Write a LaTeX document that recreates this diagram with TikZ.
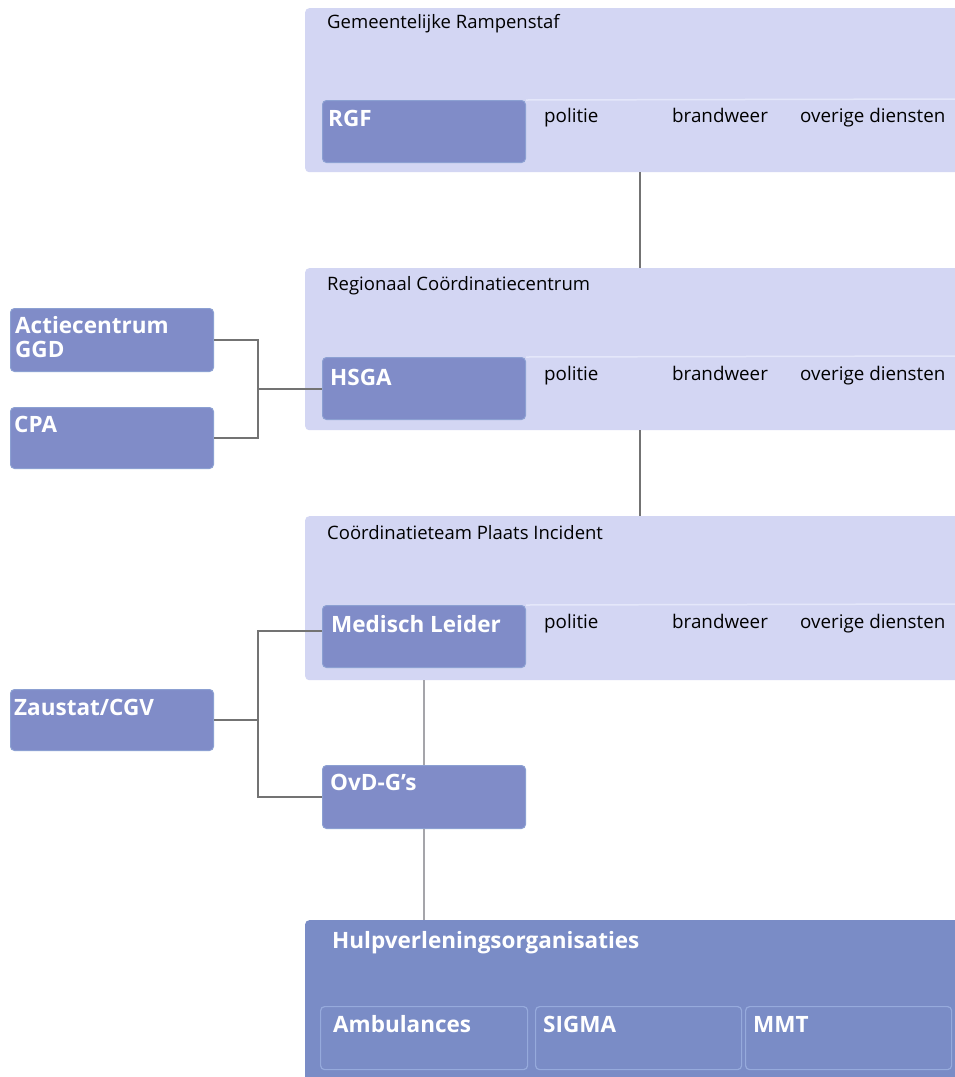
\documentclass[tikz,border=0pt]{standalone}
\usepackage{fontspec}
\setmainfont{Open Sans}
\definecolor{panelc}{RGB}{211,214,243}
\definecolor{panelline}{RGB}{228,231,250}
\definecolor{darkc}{RGB}{128,140,200}
\definecolor{darkedge}{RGB}{140,160,210}
\definecolor{hulpc}{RGB}{122,140,198}
\definecolor{subedge}{RGB}{150,170,220}
\definecolor{linec}{RGB}{115,115,115}
\definecolor{linelight}{RGB}{165,165,170}
\begin{document}
\begin{tikzpicture}[x=1pt,y=-1pt,
  panel/.style={fill=panelc, rounded corners=4pt, inner sep=0pt, anchor=north west},
  darkbox/.style={fill=darkc, draw=darkedge, line width=1pt, rounded corners=4pt, inner sep=0pt, anchor=north west, minimum width=203pt, minimum height=62pt},
  subbox/.style={draw=subedge, line width=1.2pt, rounded corners=4pt, inner sep=0pt, anchor=north west, minimum height=63pt},
  title/.style={anchor=base west, inner sep=0pt, font=\fontsize{18.5}{20}\selectfont, text=black},
  row/.style={anchor=base west, inner sep=0pt, font=\fontsize{18.8}{20}\selectfont, text=black},
  blabel/.style={anchor=base west, inner sep=0pt, font=\bfseries\fontsize{22.5}{24}\selectfont, text=white, align=left},
  conn/.style={draw=linec, line width=2pt},
  connl/.style={draw=linelight, line width=2.4pt},
  strip/.style={draw=panelline, line width=1.5pt}
]
\clip (0,0) rectangle (955,1077);
\fill[white] (0,0) rectangle (955,1077);

% panels
\node[panel, minimum width=670pt, minimum height=164pt] (p1) at (305,8) {};
\node[panel, minimum width=670pt, minimum height=162pt] (p2) at (305,268) {};
\node[panel, minimum width=670pt, minimum height=164pt] (p3) at (305,516) {};

% strips
\coordinate (s1) at (960,99);
\coordinate (s2) at (960,356);
\coordinate (s3) at (960,604);

% titles
\node[title] (t1) at (327,28) {Gemeentelijke Rampenstaf};
\node[title] (t2) at (327,290) {Regionaal Coördinatiecentrum};
\node[title] (t3) at (327,539) {Coördinatieteam Plaats Incident};

% dark boxes in panels
\node[darkbox] (rgf) at (322,100) {};
\node[darkbox] (hsga) at (322,357) {};
\node[darkbox] (ml) at (322,605) {};
\draw[strip] (rgf.north east) -- (s1);
\draw[strip] (hsga.north east) -- (s2);
\draw[strip] (ml.north east) -- (s3);
\node[blabel] (rgft) at (328,126) {RGF};
\node[blabel] (hsgat) at (330,385) {HSGA};
\node[blabel] (mlt) at (331,632) {Medisch Leider};

% rows
\foreach \r/\y in {1/122, 2/380, 3/628} {
  \node[row] (pol\r) at (544,\y) {politie};
  \node[row] (bw\r) at (672,\y) {brandweer};
  \node[row] (od\r) at (800,\y) {overige diensten};
}

% left boxes
\node[darkbox, minimum height=63pt] (agg) at (10,308) {};
\node[blabel] (aggt1) at (15,333) {Actiecentrum};
\node[blabel] (aggt2) at (15,357) {GGD};
\node[darkbox, minimum height=61pt] (cpa) at (10,407) {};
\node[blabel] (cpat) at (14,432) {CPA};
\node[darkbox, minimum height=61pt] (zau) at (10,689) {};
\node[blabel] (zaut) at (14,715) {Zaustat/CGV};
\node[darkbox, minimum height=63pt] (ovd) at (322,765) {};
\node[blabel] (ovdt) at (330,790) {OvD-G’s};

% Hulpverleningsorganisaties
\node[panel, fill=hulpc, minimum width=670pt, minimum height=170pt] (hulp) at (305,920) {};
\node[blabel] (hulpt) at (332,948) {Hulpverleningsorganisaties};
\node[subbox, minimum width=207pt] (amb) at (320,1006) {};
\node[subbox, minimum width=206pt] (sig) at (535,1006) {};
\node[subbox, minimum width=206pt] (mmt) at (745,1006) {};
\node[blabel] (ambt) at (333,1032) {Ambulances};
\node[blabel] (sigt) at (543,1032) {SIGMA};
\node[blabel] (mmtt) at (753,1032) {MMT};

% connectors
\coordinate (vx) at (640,0);
\draw[conn] (vx |- p1.south) -- (vx |- p2.north);
\draw[conn] (vx |- p2.south) -- (vx |- p3.north);
\coordinate (jx) at (258,0);
\draw[conn] (agg.east) -| (jx |- cpa.east) -- (cpa.east);
\draw[conn] (jx |- hsga.west) -- (hsga.west);
\coordinate (ml1) at (322,631);
\draw[conn] (ml1) -| (jx |- ovd.west) -- (ovd.west);
\draw[conn] (zau.east) -- (jx |- zau.east);
\coordinate (ox) at (424,0);
\draw[connl] (ox |- p3.south) -- (ox |- ovd.north);
\draw[connl] (ox |- ovd.south) -- (ox |- hulp.north);
\end{tikzpicture}
\end{document}
